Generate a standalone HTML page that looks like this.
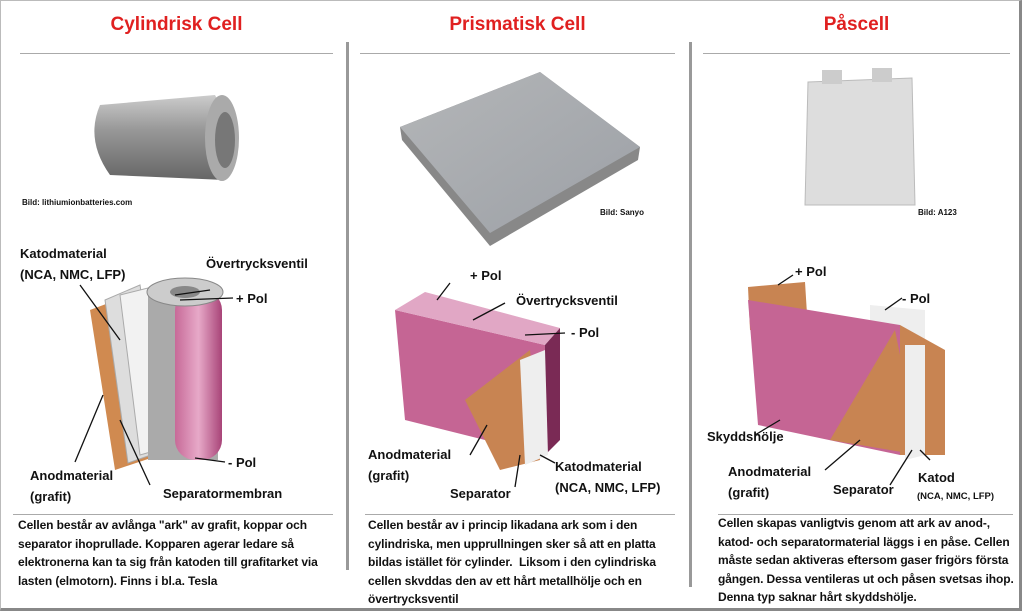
<!DOCTYPE html>
<html><head><meta charset="utf-8"><style>
body{margin:0;width:1024px;height:613px;background:#fff;position:relative;overflow:hidden;font-family:"Liberation Sans",sans-serif}
.a{position:absolute}
.t{color:#e02020;font-weight:bold;font-size:19px;text-align:center}
.h{height:1px;background:#aaa}
.v{width:3px;background:#999}
.l{font-weight:bold;font-size:13px;color:#111;white-space:nowrap}
.s{font-weight:bold;font-size:8px;color:#111;white-space:nowrap}
.p{font-weight:bold;font-size:12px;line-height:18.5px;color:#111;letter-spacing:-0.1px;white-space:nowrap}
</style></head><body>
<div class="a" style="left:0;top:0;width:1018px;height:607px;border:3px solid #888;border-top:1px solid #bbb;border-left:1px solid #bbb"></div>
<div class="a t" style="left:20px;top:14px;width:313px">Cylindrisk Cell</div>
<div class="a t" style="left:360px;top:14px;width:315px">Prismatisk Cell</div>
<div class="a t" style="left:703px;top:14px;width:307px">Påscell</div>
<div class="a h" style="left:20px;top:53px;width:313px"></div>
<div class="a h" style="left:360px;top:53px;width:315px"></div>
<div class="a h" style="left:703px;top:53px;width:307px"></div>
<div class="a v" style="left:346px;top:42px;height:528px"></div>
<div class="a v" style="left:689px;top:42px;height:545px"></div>
<div class="a h" style="left:13px;top:514px;width:320px"></div>
<div class="a h" style="left:365px;top:514px;width:310px"></div>
<div class="a h" style="left:718px;top:514px;width:295px"></div>
<svg class="a" style="left:0;top:0" width="1024" height="613">
<defs>
<linearGradient id="g1" x1="0" y1="0" x2="0" y2="1"><stop offset="0" stop-color="#ccc"/><stop offset=".4" stop-color="#999"/><stop offset="1" stop-color="#666"/></linearGradient>
<linearGradient id="pk" x1="0" y1="0" x2="1" y2="0"><stop offset="0" stop-color="#c76a98"/><stop offset=".5" stop-color="#e7a9c8"/><stop offset="1" stop-color="#a84478"/></linearGradient>
<linearGradient id="g2" x1="0" y1="0" x2="1" y2="1"><stop offset="0" stop-color="#b4b6b8"/><stop offset="1" stop-color="#9ca0a6"/></linearGradient>
</defs>
<!-- cylinder photo -->
<path d="M100 105 L215 95 Q240 140 225 180 L110 175 Q85 140 100 105Z" fill="url(#g1)"/>
<ellipse cx="222" cy="138" rx="17" ry="43" fill="#aaa"/>
<ellipse cx="225" cy="140" rx="10" ry="28" fill="#777"/>
<!-- prismatic photo -->
<path d="M400 127 L540 72 L640 147 L638 160 L490 246 L402 140Z" fill="#888"/>
<path d="M400 127 L540 72 L640 147 L490 233Z" fill="url(#g2)"/>
<!-- pouch photo -->
<path d="M808 82 L912 78 L915 205 L805 205Z" fill="#ddd" stroke="#bbb"/>
<rect x="822" y="70" width="20" height="14" fill="#ccc"/><rect x="872" y="68" width="20" height="14" fill="#ccc"/>
<!-- cylinder diagram -->
<path d="M90 310 L130 295 L160 455 L115 470Z" fill="#d08a50"/>
<path d="M105 300 L140 285 L165 450 L128 463Z" fill="#ddd" stroke="#aaa"/>
<path d="M120 295 L160 285 L175 445 L140 455Z" fill="#f2f2f2" stroke="#aaa"/>
<rect x="148" y="290" width="70" height="170" fill="#aaa"/>
<rect x="175" y="290" width="47" height="170" rx="20" fill="url(#pk)"/>
<ellipse cx="185" cy="292" rx="38" ry="14" fill="#ccc" stroke="#888"/>
<ellipse cx="185" cy="292" rx="15" ry="6" fill="#888"/>
<!-- prismatic diagram -->
<path d="M395 310 L545 345 L545 455 L405 420Z" fill="#c56594"/>
<path d="M395 310 L425 292 L560 328 L545 345Z" fill="#e1a7c5"/>
<path d="M545 345 L560 328 L560 440 L545 455Z" fill="#7a2a55"/>
<path d="M465 400 L530 350 L540 460 L500 470Z" fill="#c88452"/>
<path d="M520 360 L545 350 L548 455 L525 465Z" fill="#eee"/>
<!-- pouch diagram -->
<path d="M748 287 L805 282 L808 330 L750 330Z" fill="#c88452"/>
<path d="M870 305 L925 310 L925 340 L870 340Z" fill="#eee"/>
<path d="M748 300 L900 325 L900 455 L758 425Z" fill="#c56594"/>
<path d="M900 325 L945 350 L945 455 L900 455Z" fill="#c88452"/>
<path d="M830 440 L895 330 L920 455Z" fill="#c88452"/>
<path d="M905 345 L925 345 L925 455 L905 460Z" fill="#eee"/>
<g stroke="#111" stroke-width="1.3" fill="none">
<line x1="80" y1="285" x2="120" y2="340"/><line x1="210" y1="290" x2="175" y2="295"/><line x1="233" y1="298" x2="180" y2="300"/>
<line x1="75" y1="462" x2="103" y2="395"/><line x1="150" y1="485" x2="120" y2="420"/><line x1="225" y1="462" x2="195" y2="458"/>
<line x1="450" y1="283" x2="437" y2="300"/><line x1="505" y1="303" x2="473" y2="320"/><line x1="565" y1="333" x2="525" y2="335"/>
<line x1="470" y1="455" x2="487" y2="425"/><line x1="515" y1="487" x2="520" y2="455"/><line x1="555" y1="463" x2="540" y2="455"/>
<line x1="793" y1="275" x2="778" y2="285"/><line x1="902" y1="298" x2="885" y2="310"/>
<line x1="755" y1="435" x2="780" y2="420"/><line x1="825" y1="470" x2="860" y2="440"/><line x1="890" y1="485" x2="912" y2="450"/><line x1="930" y1="460" x2="920" y2="450"/>
</g>
</svg>
<div class="a s" style="left:22px;top:198px">Bild: lithiumionbatteries.com</div>
<div class="a s" style="left:600px;top:208px">Bild: Sanyo</div>
<div class="a s" style="left:918px;top:208px">Bild: A123</div>
<div class="a l" style="left:20px;top:243px;line-height:21px">Katodmaterial<br>(NCA, NMC, LFP)</div>
<div class="a l" style="left:206px;top:256px">Övertrycksventil</div>
<div class="a l" style="left:236px;top:291px">+ Pol</div>
<div class="a l" style="left:228px;top:455px">- Pol</div>
<div class="a l" style="left:30px;top:465px;line-height:21px">Anodmaterial<br>(grafit)</div>
<div class="a l" style="left:163px;top:486px">Separatormembran</div>
<div class="a l" style="left:470px;top:268px">+ Pol</div>
<div class="a l" style="left:516px;top:293px">Övertrycksventil</div>
<div class="a l" style="left:571px;top:325px">- Pol</div>
<div class="a l" style="left:368px;top:444px;line-height:21px">Anodmaterial<br>(grafit)</div>
<div class="a l" style="left:555px;top:456px;line-height:21px">Katodmaterial<br>(NCA, NMC, LFP)</div>
<div class="a l" style="left:450px;top:486px">Separator</div>
<div class="a l" style="left:795px;top:264px">+ Pol</div>
<div class="a l" style="left:902px;top:291px">- Pol</div>
<div class="a l" style="left:707px;top:429px">Skyddshölje</div>
<div class="a l" style="left:728px;top:461px;line-height:21px">Anodmaterial<br>(grafit)</div>
<div class="a l" style="left:833px;top:482px">Separator</div>
<div class="a l" style="left:918px;top:470px">Katod</div>
<div class="a s" style="left:917px;top:491px;font-size:9.5px">(NCA, NMC, LFP)</div>
<div class="a p" style="left:18px;top:516px">Cellen består av avlånga "ark" av grafit, koppar och<br>separator ihoprullade. Kopparen agerar ledare så<br>elektronerna kan ta sig från katoden till grafitarket via<br>lasten (elmotorn). Finns i bl.a. Tesla</div>
<div class="a p" style="left:368px;top:516px">Cellen består av i princip likadana ark som i den<br>cylindriska, men upprullningen sker så att en platta<br>bildas istället för cylinder.&nbsp; Liksom i den cylindriska<br>cellen skvddas den av ett hårt metallhölje och en<br>övertrycksventil</div>
<div class="a p" style="left:718px;top:514px">Cellen skapas vanligtvis genom att ark av anod-,<br>katod- och separatormaterial läggs i en påse. Cellen<br>måste sedan aktiveras eftersom gaser frigörs första<br>gången. Dessa ventileras ut och påsen svetsas ihop.<br>Denna typ saknar hårt skyddshölje.</div>
</body></html>
